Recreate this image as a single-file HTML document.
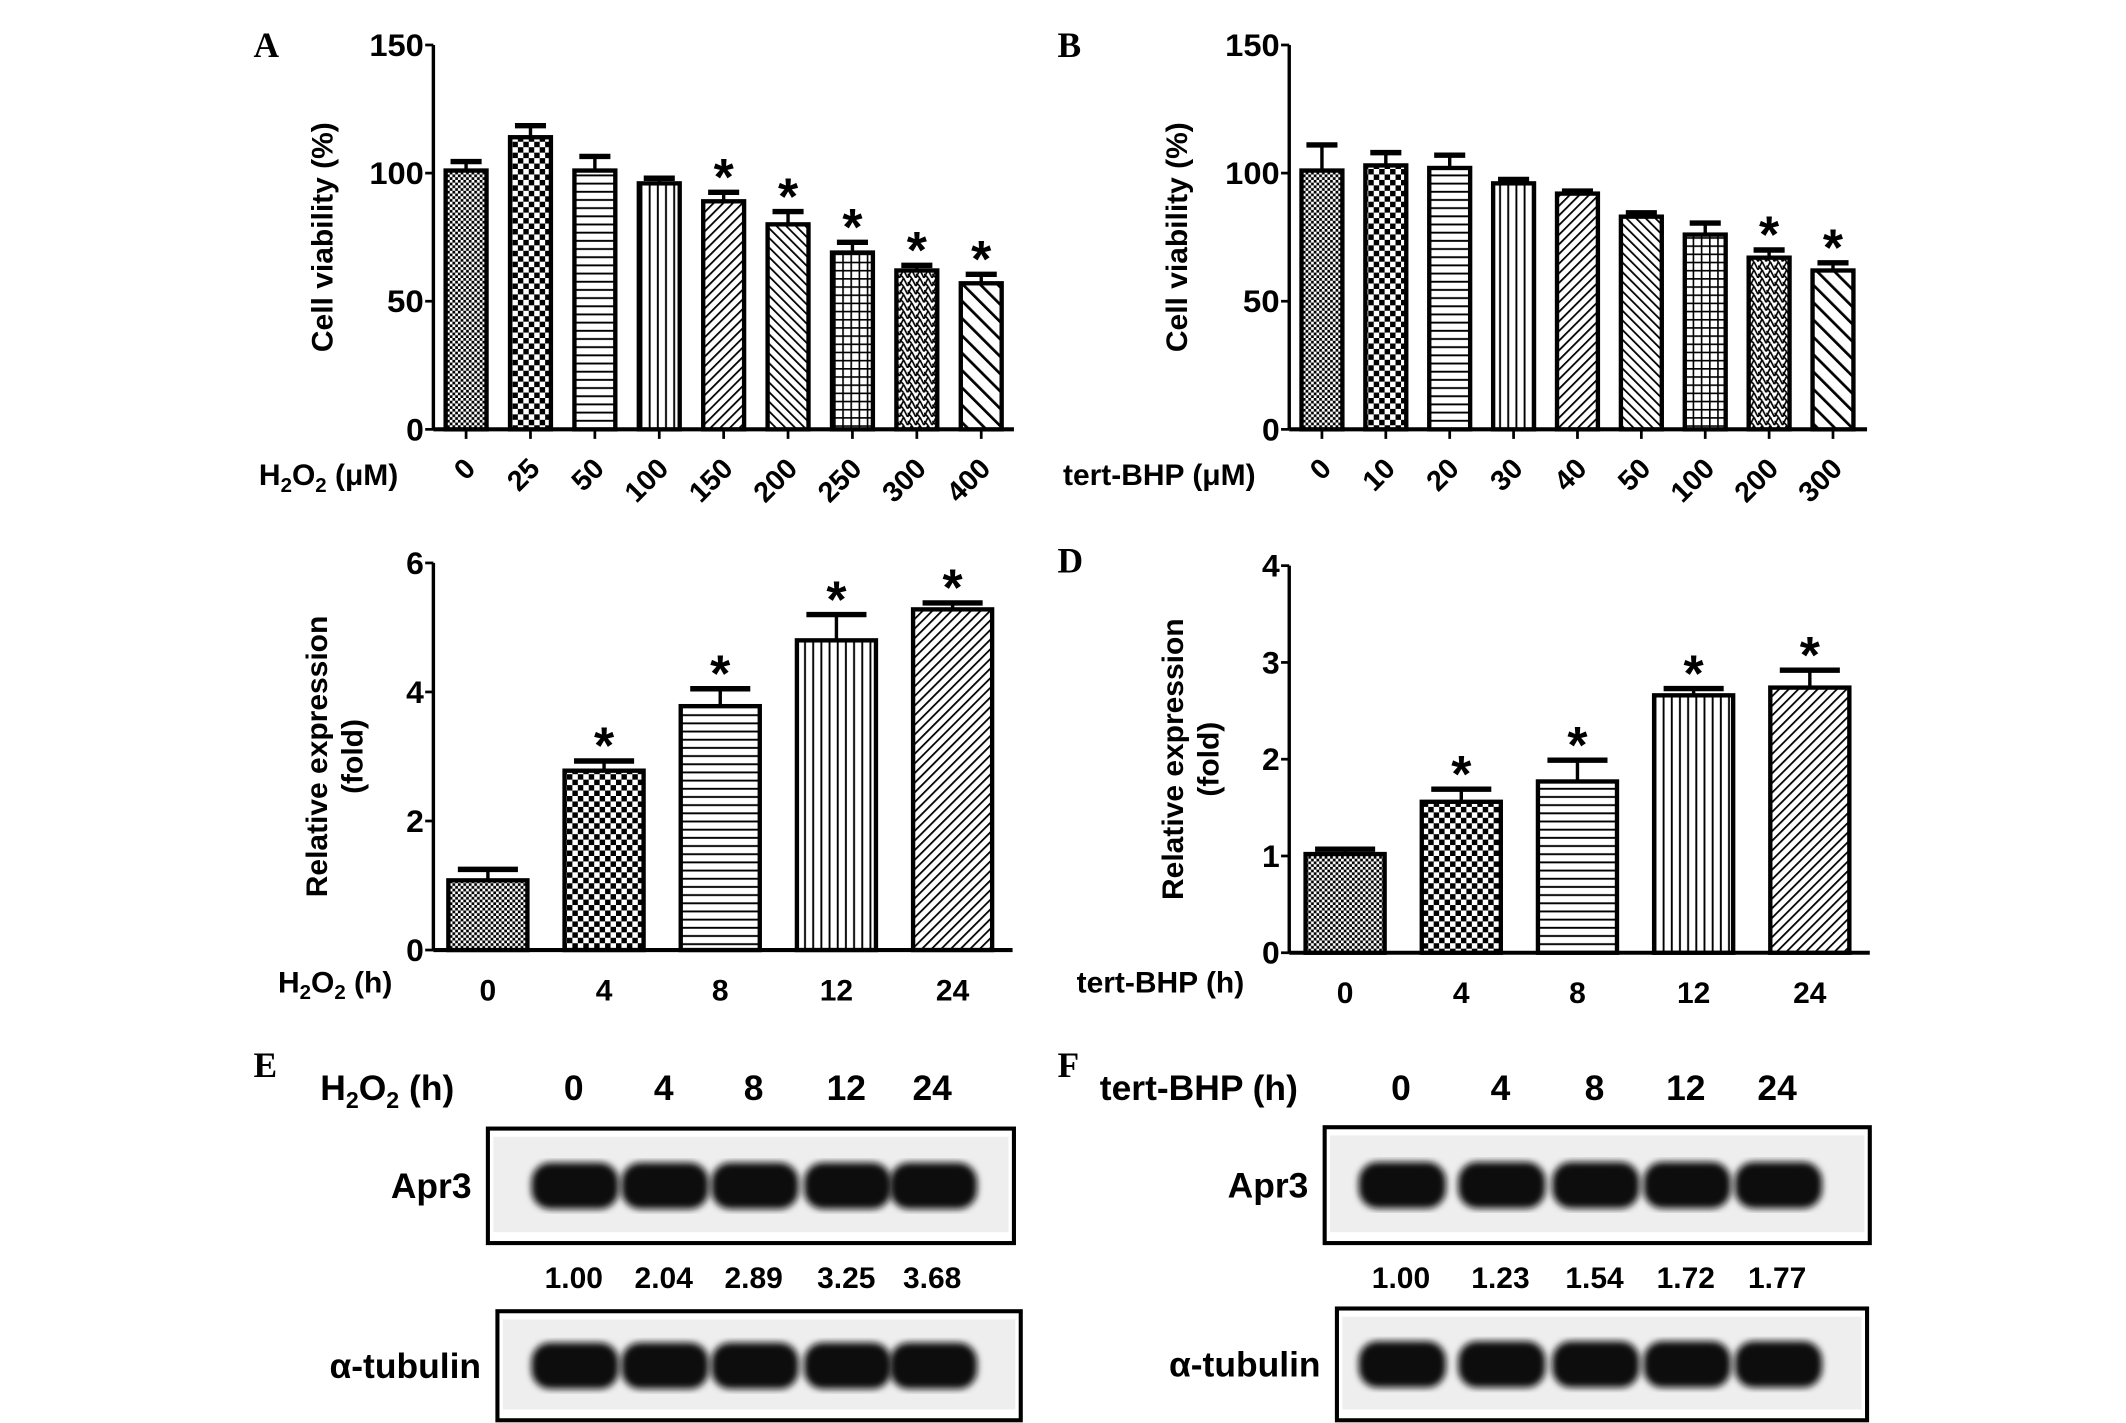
<!DOCTYPE html>
<html><head><meta charset="utf-8"><style>
html,body{margin:0;padding:0;background:#fff;}
svg{display:block;}
text{font-family:"Liberation Sans",Arial,sans-serif;font-weight:bold;fill:#000;}
.serif{font-family:"Liberation Serif",serif;}
</style></head><body>
<svg id="fig" width="2126" height="1423" viewBox="0 0 1560 1044" preserveAspectRatio="none" xmlns="http://www.w3.org/2000/svg">
<defs>
<pattern id="p0" width="4" height="4" patternUnits="userSpaceOnUse"><rect width="4" height="4" fill="#fff"/><rect width="2" height="2" fill="#000"/><rect x="2" y="2" width="2" height="2" fill="#000"/></pattern>
<pattern id="p1" width="8" height="8" patternUnits="userSpaceOnUse"><rect width="8" height="8" fill="#fff"/><rect width="4" height="4" fill="#000"/><rect x="4" y="4" width="4" height="4" fill="#000"/></pattern>
<pattern id="p2" width="6" height="6" patternUnits="userSpaceOnUse"><rect width="6" height="6" fill="#fff"/><rect y="2" width="6" height="1.4" fill="#000"/></pattern>
<pattern id="p3" width="6" height="6" patternUnits="userSpaceOnUse"><rect width="6" height="6" fill="#fff"/><rect x="2" width="1.4" height="6" fill="#000"/></pattern>
<pattern id="p4" width="5" height="5" patternUnits="userSpaceOnUse" patternTransform="rotate(45)"><rect width="5" height="5" fill="#fff"/><rect width="1.3" height="5" fill="#000"/></pattern>
<pattern id="p5" width="5" height="5" patternUnits="userSpaceOnUse" patternTransform="rotate(-45)"><rect width="5" height="5" fill="#fff"/><rect width="1.3" height="5" fill="#000"/></pattern>
<pattern id="p6" width="6" height="6" patternUnits="userSpaceOnUse"><rect width="6" height="6" fill="#fff"/><rect width="6" height="1.2" fill="#000"/><rect width="1.2" height="6" fill="#000"/></pattern>
<pattern id="p7" width="6" height="6" patternUnits="userSpaceOnUse"><rect width="6" height="6" fill="#fff"/><path d="M0 6L3 0L6 6M0 3L3 6" stroke="#000" stroke-width="1.2" fill="none"/></pattern>
<pattern id="p8" width="9" height="9" patternUnits="userSpaceOnUse" patternTransform="rotate(-45)"><rect width="9" height="9" fill="#fff"/><rect width="2" height="9" fill="#000"/></pattern>
<filter id="blur"><feGaussianBlur stdDeviation="2.5"/></filter>
</defs>
<g id="charts"></g>
<g id="blots"></g>
</svg>
<script>
const NS="http://www.w3.org/2000/svg";
// Panel A data
const catsA=["0","25","50","100","150","200","250","300","400"];
const valsA=[101,114,101,96,89,80,69,62,57];
const errA=[3.5,4.5,5.5,2,3.5,5,4,2,3.5];
const sigA=[0,0,0,0,1,1,1,1,1];
const ticksA=[0,50,100,150];
// Panel B data
const catsB=["0","10","20","30","40","50","100","200","300"];
const valsB=[101,103,102,96,92,83,76,67,62];
const errB=[10,5,5,1.5,1,1.5,4.5,3,3];
const sigB=[0,0,0,0,0,0,0,1,1];
const ticksB=[0,50,100,150];
// Panel C data
const catsC=["0","4","8","12","24"];
const valsC=[1.08,2.78,3.78,4.8,5.28];
const errC=[0.17,0.15,0.27,0.4,0.1];
const sigC=[0,1,1,1,1];
const ticksC=[0,2,4,6];
// Panel D data
const catsD=["0","4","8","12","24"];
const valsD=[1.02,1.56,1.77,2.66,2.74];
const errD=[0.05,0.13,0.22,0.07,0.18];
const sigD=[0,1,1,1,1];
const ticksD=[0,1,2,3,4];
// Blot quantification
const lanes=["0","4","8","12","24"];
const quantE=["1.00","2.04","2.89","3.25","3.68"];
const quantF=["1.00","1.23","1.54","1.72","1.77"];

function el(tag,attrs,parent,txt){const e=document.createElementNS(NS,tag);for(const k in attrs)e.setAttribute(k,attrs[k]);if(txt!==undefined)e.textContent=txt;parent.appendChild(e);return e;}
const root=document.getElementById('charts');

function chart(cfg){
  const g=el('g',{},root);
  
  
  const ymax=cfg.ticks[cfg.ticks.length-1];
  const y=v=>cfg.y0-(v/ymax)*(cfg.y0-cfg.yTop);
  const n=cfg.cats.length;
  const step=(cfg.xLast-cfg.xFirst)/(n-1);
  const x=i=>cfg.xFirst+i*step;
  const ya=el('line',{x1:cfg.ax,y1:cfg.yTop,x2:cfg.ax,y2:cfg.y0,stroke:'#000','stroke-width':2.5},g);
  
  const xa=el('line',{x1:cfg.ax,y1:cfg.y0,x2:cfg.axEnd,y2:cfg.y0,stroke:'#000','stroke-width':3},g);
  
  cfg.ticks.forEach(t=>{
    el('line',{x1:cfg.ax-6,y1:y(t),x2:cfg.ax,y2:y(t),stroke:'#000','stroke-width':2},g);
    const tl=el('text',{x:cfg.ax-7,y:y(t)+8,'text-anchor':'end','font-size':23,'textLength':t>=100?40:(t>=10?27:13),lengthAdjust:'spacingAndGlyphs'},g,String(t));
    
  });
  cfg.cats.forEach((c,i)=>{
    const cx=x(i),top=y(cfg.vals[i]),et=y(cfg.vals[i]+cfg.err[i]);
    const cap=cfg.bw*0.38;
    el('line',{x1:cx,y1:top,x2:cx,y2:et,stroke:'#000','stroke-width':2.5},g);
    el('line',{x1:cx-cap,y1:et,x2:cx+cap,y2:et,stroke:'#000','stroke-width':4},g);
    const b=el('rect',{x:cx-cfg.bw/2,y:top,width:cfg.bw,height:cfg.y0-top,fill:'url(#'+cfg.pats[i]+')',stroke:'#000','stroke-width':3.2},g);
    
    if(cfg.tickDown) el('line',{x1:cx,y1:cfg.y0,x2:cx,y2:cfg.y0+7,stroke:'#000','stroke-width':2},g);
    if(cfg.sig[i]){const s=el('text',{x:cx,y:et+2,'text-anchor':'middle','font-size':38},g,'*');}
    let lab;
    if(cfg.rot){lab=el('text',{x:0,y:0,'text-anchor':'end','font-size':21,transform:`translate(${cx+8},${cfg.y0+30}) rotate(-45)`},g,c);}
    else lab=el('text',{x:cx,y:cfg.y0+37,'text-anchor':'middle','font-size':22},g,c);
    
  });
  const yt=el('text',{x:0,y:0,'text-anchor':'middle','font-size':22,transform:`translate(${cfg.titleX},${(cfg.yTop+cfg.y0)/2+cfg.titleDy}) rotate(-90)`},g);
  
  cfg.ytitle.forEach((t,k)=>{el('tspan',{x:0,dy:k?26:0},yt,t);});
  const xl=el('text',{x:cfg.xlx,y:cfg.xly,'font-size':22},g);
  
  xl.innerHTML=cfg.xlabel;
  const L=el('text',{x:cfg.lx,y:cfg.ly,'font-size':26,class:'serif'},g,cfg.letter);
  
}
const pats9=['p0','p1','p2','p3','p4','p5','p6','p7','p8'];
chart({name:'panel-a-chart',cats:catsA,vals:valsA,err:errA,sig:sigA,ticks:ticksA,ax:318,axEnd:744,yTop:33,y0:315,xFirst:342,xLast:720,bw:30,pats:pats9,rot:true,tickDown:true,ytitle:['Cell viability (%)'],titleX:244,titleDy:0,xlabel:'H<tspan font-size="15" dy="5">2</tspan><tspan dy="-5">O</tspan><tspan font-size="15" dy="5">2</tspan><tspan dy="-5"> (μM)</tspan>',xlx:190,xly:356,letter:'A',lx:186,ly:42});
chart({name:'panel-b-chart',cats:catsB,vals:valsB,err:errB,sig:sigB,ticks:ticksB,ax:946,axEnd:1370,yTop:33,y0:315,xFirst:970,xLast:1345,bw:30,pats:pats9,rot:true,tickDown:true,ytitle:['Cell viability (%)'],titleX:871,titleDy:0,xlabel:'tert-BHP (μM)',xlx:780,xly:356,letter:'B',lx:776,ly:42});
chart({name:'panel-c-chart',cats:catsC,vals:valsC,err:errC,sig:sigC,ticks:ticksC,ax:318,axEnd:743,yTop:413,y0:697,xFirst:358,xLast:699,bw:58,pats:['p0','p1','p2','p3','p4'],rot:false,tickDown:false,ytitle:['Relative expression','(fold)'],titleX:240,titleDy:0,xlabel:'H<tspan font-size="15" dy="5">2</tspan><tspan dy="-5">O</tspan><tspan font-size="15" dy="5">2</tspan><tspan dy="-5"> (h)</tspan>',xlx:204,xly:728,letter:'',lx:0,ly:0});
chart({name:'panel-d-chart',cats:catsD,vals:valsD,err:errD,sig:sigD,ticks:ticksD,ax:946,axEnd:1372,yTop:415,y0:699,xFirst:987,xLast:1328,bw:58,pats:['p0','p1','p2','p3','p4'],rot:false,tickDown:false,ytitle:['Relative expression','(fold)'],titleX:868,titleDy:0,xlabel:'tert-BHP (h)',xlx:790,xly:728,letter:'D',lx:776,ly:420});

const bl=document.getElementById('blots');
function blot(cfg){
  const g=el('g',{},bl);
  
  
  const L=el('text',{x:cfg.lx,y:cfg.ly,'font-size':26,class:'serif'},g,cfg.letter);
  
  const h=el('text',{x:cfg.hx,y:cfg.hy,'font-size':26},g);h.innerHTML=cfg.header;
  
  lanes.forEach((t,i)=>{const tx=el('text',{x:cfg.lanesX[i],y:cfg.hy,'text-anchor':'middle','font-size':26},g,t);});
  cfg.boxes.forEach((b,k)=>{
    const bx=el('rect',{x:b[0],y:b[1],width:b[2],height:b[3],fill:'#fff',stroke:'#000','stroke-width':3},g);
    
    el('rect',{x:b[0]+4,y:b[1]+6,width:b[2]-8,height:b[3]-14,fill:'#eeeeee'},g);
    const bandY=b[1]+b[3]*0.5;
    lanes.forEach((t,i)=>{
      el('rect',{x:cfg.lanesX[i]-31,y:bandY-17,width:64,height:34,rx:14,fill:'#111',filter:'url(#blur)'},g);
    });
    const nm=el('text',{x:b[0]-12,y:bandY+9,'text-anchor':'end','font-size':26},g,k?'α-tubulin':'Apr3');
    
  });
  cfg.quant.forEach((q,i)=>{const tx=el('text',{x:cfg.lanesX[i],y:cfg.qy,'text-anchor':'middle','font-size':22},g,q);});
}
blot({name:'panel-e-blot',letter:'E',lx:186,ly:790,header:'H<tspan font-size="17" dy="6">2</tspan><tspan dy="-6">O</tspan><tspan font-size="17" dy="6">2</tspan><tspan dy="-6"> (h)</tspan>',hx:235,hy:807,lanesX:[421,487,553,621,684],boxes:[[358,828,386,84],[365,962,384,80]],quant:quantE,qy:945});
blot({name:'panel-f-blot',letter:'F',lx:776,ly:790,header:'tert-BHP (h)',hx:807,hy:807,lanesX:[1028,1101,1170,1237,1304],boxes:[[972,827,400,85],[981,960,389,82]],quant:quantF,qy:945});
</script>
</body></html>
